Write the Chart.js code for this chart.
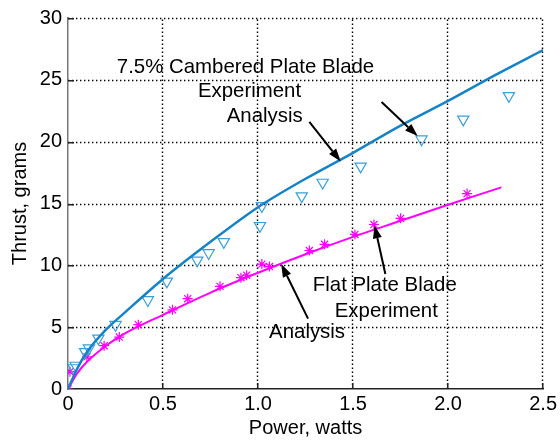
<!DOCTYPE html>
<html>
<head>
<meta charset="utf-8">
<script src="https://cdn.jsdelivr.net/npm/chart.js@4.4.0/dist/chart.umd.min.js"></script>
<style>
  html, body { margin: 0; padding: 0; background: #fff; }
</style>
</head>
<body>
<canvas id="thrustChart" width="560" height="442"></canvas>
<script>
// data
const xTicks = [0, 0.5, 1, 1.5, 2, 2.5];
const yTicks = [0, 5, 10, 15, 20, 25, 30];

const cambExpPower  = [0.03, 0.04, 0.09, 0.11, 0.16, 0.25, 0.42, 0.52, 0.68, 0.74, 0.82, 1.01, 1.02, 1.23, 1.34, 1.54, 1.86, 2.08, 2.32];
const cambExpThrust = [1.7, 1.9, 3.0, 3.3, 4.1, 5.2, 7.2, 8.7, 10.4, 11.0, 11.9, 13.2, 14.8, 15.6, 16.7, 18.0, 20.2, 21.8, 23.7];

const cambFitPower  = [0, 0.05, 0.1, 0.2, 0.3, 0.5, 0.75, 1.0, 1.25, 1.5, 1.75, 2.0, 2.25, 2.5];
const cambFitThrust = [0, 1.7, 3.0, 4.8, 6.2, 8.9, 11.9, 14.7, 17.0, 19.1, 21.3, 23.3, 25.4, 27.4];

const flatExpPower  = [0.0, 0.01, 0.10, 0.19, 0.27, 0.37, 0.55, 0.63, 0.80, 0.91, 0.94, 1.02, 1.06, 1.27, 1.35, 1.51, 1.61, 1.75, 2.10];
const flatExpThrust = [0.0, 1.4, 2.6, 3.5, 4.2, 5.2, 6.4, 7.3, 8.3, 9.0, 9.2, 10.1, 9.9, 11.2, 11.7, 12.5, 13.3, 13.8, 15.8];

const flatFitPower  = [0, 0.05, 0.1, 0.2, 0.3, 0.5, 0.75, 1.0, 1.25, 1.5, 1.75, 2.0, 2.28];
const flatFitThrust = [0, 1.3, 2.2, 3.5, 4.5, 6.0, 7.8, 9.4, 10.9, 12.3, 13.6, 14.9, 16.3];

const toPoints = (xs, ys) => xs.map((x, i) => ({ x: x, y: ys[i] }));

const FONT = "'Liberation Sans', Arial, sans-serif";

// text + arrows placed in data units
const notes = {
  labels: [
    { text: '7.5% Cambered Plate Blade', x: 0.934, y: 26.0 },
    { text: 'Experiment', x: 0.955, y: 24.05 },
    { text: 'Analysis', x: 1.035, y: 22.05 },
    { text: 'Flat Plate Blade', x: 1.667, y: 8.34 },
    { text: 'Experiment', x: 1.675, y: 6.25 },
    { text: 'Analysis', x: 1.258, y: 4.57 }
  ],
  arrows: [
    { from: [1.27, 21.6], to: [1.435, 18.4] },
    { from: [1.65, 23.2], to: [1.84, 20.45] },
    { from: [1.670, 9.30], to: [1.613, 13.23] },
    { from: [1.263, 5.69], to: [1.122, 10.1] }
  ]
};

// dotted grid (matlab style)
const dottedGrid = {
  id: 'dottedGrid',
  beforeDatasetsDraw(chart) {
    const c = chart.ctx;
    const area = chart.chartArea;
    const sx = chart.scales.x, sy = chart.scales.y;
    c.save();
    c.strokeStyle = '#000';
    c.lineWidth = 1.4;
    c.setLineDash([1.4, 2.6]);
    c.beginPath();
    for (let i = 1; i < xTicks.length; i++) {
      const px = Math.round(sx.getPixelForValue(xTicks[i])) - 0.5;
      c.moveTo(px, area.bottom);
      c.lineTo(px, area.top);
    }
    for (let i = 1; i < yTicks.length; i++) {
      const py = Math.round(sy.getPixelForValue(yTicks[i])) + 0.5;
      c.moveTo(area.left, py);
      c.lineTo(area.right, py);
    }
    c.stroke();
    c.restore();
  }
};

const notesPlugin = {
  id: 'notes',
  afterDraw(chart) {
    const c = chart.ctx;
    const area = chart.chartArea;
    const X = v => chart.scales.x.getPixelForValue(v);
    const Y = v => chart.scales.y.getPixelForValue(v);
    c.save();

    // inward tick marks
    c.fillStyle = '#222';
    for (let i = 1; i < xTicks.length; i++) {
      c.fillRect(Math.round(X(xTicks[i])) - 1, Math.round(area.bottom) - 6, 1.5, 6);
    }
    for (let i = 1; i < yTicks.length; i++) {
      c.fillRect(Math.round(area.left), Math.round(Y(yTicks[i])), 6, 1.5);
    }

    c.fillStyle = '#000';
    c.font = '20.4px ' + FONT;
    c.textAlign = 'center';
    c.textBaseline = 'middle';
    notes.labels.forEach(l => c.fillText(l.text, X(l.x), Y(l.y)));

    c.strokeStyle = '#000';
    c.lineWidth = 2;
    notes.arrows.forEach(a => {
      const x1 = X(a.from[0]), y1 = Y(a.from[1]);
      const x2 = X(a.to[0]), y2 = Y(a.to[1]);
      const ang = Math.atan2(y2 - y1, x2 - x1);
      const len = 13, half = 4.5;
      const bx = x2 - len * Math.cos(ang), by = y2 - len * Math.sin(ang);
      c.beginPath();
      c.moveTo(x1, y1);
      c.lineTo(bx, by);
      c.stroke();
      c.beginPath();
      c.moveTo(x2, y2);
      c.lineTo(bx + half * Math.sin(ang), by - half * Math.cos(ang));
      c.lineTo(bx - half * Math.sin(ang), by + half * Math.cos(ang));
      c.closePath();
      c.fill();
    });
    c.restore();
  }
};

const ctx = document.getElementById('thrustChart').getContext('2d');

new Chart(ctx, {
  type: 'line',
  data: {
    datasets: [
      {
        label: 'Cambered analysis',
        data: toPoints(cambFitPower, cambFitThrust),
        borderColor: '#1683c6',
        borderWidth: 2.5,
        pointRadius: 0,
        cubicInterpolationMode: 'monotone',
        fill: false
      },
      {
        label: 'Cambered experiment',
        data: toPoints(cambExpPower, cambExpThrust),
        showLine: false,
        pointStyle: 'triangle',
        rotation: 180,
        pointRadius: 6.5,
        pointBorderWidth: 1.2,
        pointBorderColor: '#3b9fd6',
        pointBackgroundColor: 'rgba(0,0,0,0)'
      },
      {
        label: 'Flat analysis',
        data: toPoints(flatFitPower, flatFitThrust),
        borderColor: '#ff00ff',
        borderWidth: 2,
        pointRadius: 0,
        cubicInterpolationMode: 'monotone',
        fill: false
      },
      {
        label: 'Flat experiment',
        data: toPoints(flatExpPower, flatExpThrust),
        showLine: false,
        pointStyle: 'star',
        pointRadius: 5,
        pointBorderWidth: 1.2,
        pointBorderColor: '#ff00ff',
        pointBackgroundColor: '#ff00ff'
      }
    ]
  },
  options: {
    responsive: false,
    animation: false,
    layout: { padding: { top: 15, right: 14, left: 0, bottom: 0 } },
    plugins: {
      legend: { display: false },
      tooltip: { enabled: false }
    },
    scales: {
      x: {
        type: 'linear',
        min: 0,
        max: 2.5,
        afterBuildTicks: s => { s.ticks = xTicks.map(v => ({ value: v })); },
        afterFit: s => { s.height = 53; },
        grid: { display: false, drawTicks: false },
        border: { display: true, color: '#222', width: 1.5 },
        ticks: { color: '#000', padding: 3, font: { family: FONT, size: 20 }, maxRotation: 0 },
        title: {
          display: true,
          text: 'Power, watts',
          color: '#000',
          font: { family: FONT, size: 20 },
          padding: { top: 0, bottom: 2 }
        }
      },
      y: {
        type: 'linear',
        min: 0,
        max: 30,
        afterBuildTicks: s => { s.ticks = yTicks.map(v => ({ value: v })); },
        afterFit: s => { s.width = 68; },
        grid: { display: false, drawTicks: false },
        border: { display: true, color: '#777', width: 1.5 },
        ticks: { color: '#000', padding: 6, font: { family: FONT, size: 20 } },
        title: {
          display: true,
          text: 'Thrust, grams',
          color: '#000',
          font: { family: FONT, size: 20 },
          padding: { top: 8, bottom: 0 }
        }
      }
    }
  },
  plugins: [dottedGrid, notesPlugin]
});
</script>
</body>
</html>
